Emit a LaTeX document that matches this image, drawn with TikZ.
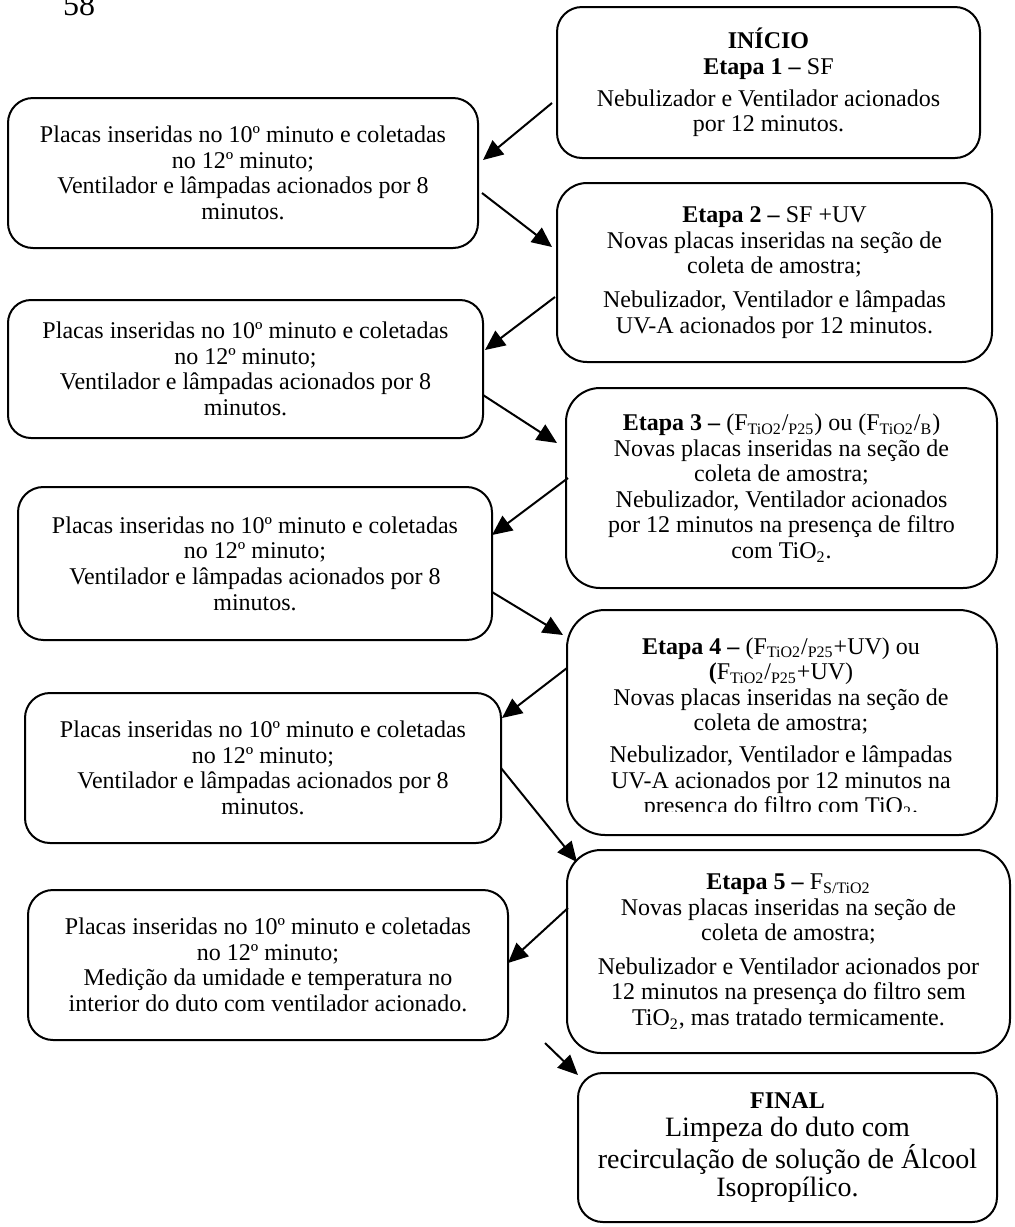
\documentclass[tikz,border=0pt]{standalone}
\usepackage{fontspec}
\setmainfont{Liberation Serif}
\usetikzlibrary{arrows.meta}
\newcommand{\Fsub}[2]{F\textsubscript{#1}/\textsubscript{#2}}
\begin{document}
\begin{tikzpicture}[x=0.5pt,y=-0.5pt,
  box/.style={draw, line width=1pt, align=center, inner sep=0pt,
    font=\fontsize{12}{12.8}\selectfont},
  txt/.style={align=center, inner sep=0pt, font=\fontsize{12}{12.8}\selectfont},
  arr/.style={line width=1pt, -{Triangle[length=10pt,width=9pt]}}]
\useasboundingbox (0,0) rectangle (1015,1227);

\node[font=\fontsize{16}{16}\selectfont, anchor=base, inner sep=0pt] (pg) at (79,15) {58};

% right column
\node[box, rounded corners=12.5pt, minimum width=211.5pt, minimum height=75.5pt] (R1) at (768.5,82.5)
 {\textbf{INÍCIO}\\\textbf{Etapa 1 –} SF\\[3pt]Nebulizador e Ventilador acionados\\por 12 minutos.};

\node[box, rounded corners=15pt, minimum width=217.5pt, minimum height=89.5pt] (R2) at (774.5,272.5)
 {\textbf{Etapa 2 –} SF +UV\\Novas placas inseridas na seção de\\coleta de amostra;\\[4pt]Nebulizador, Ventilador e lâmpadas\\UV-A acionados por 12 minutos.};

\node[box, rounded corners=17pt, minimum width=215.5pt, minimum height=100pt] (R3) at (781.5,488)
 {\textbf{Etapa 3 –} (\Fsub{TiO2}{P25}) ou (\Fsub{TiO2}{B})\\Novas placas inseridas na seção de\\coleta de amostra;\\Nebulizador, Ventilador acionados\\por 12 minutos na presença de filtro\\com TiO\textsubscript{2}.};

\node[box, rounded corners=19pt, minimum width=215pt, minimum height=112.5pt] (R4) at (782,722.5) {};
\begin{scope}
  \clip (567,610) rectangle (997,811);
  \node[txt, anchor=north] (R4t) at (781,637)
   {\textbf{Etapa 4 –} (\Fsub{TiO2}{P25}+UV) ou\\\textbf{(}\Fsub{TiO2}{P25}+UV)\\Novas placas inseridas na seção de\\coleta de amostra;\\[3pt]Nebulizador, Ventilador e lâmpadas\\UV-A acionados por 12 minutos na\\presença do filtro com TiO\textsubscript{2}.};
\end{scope}

\node[box, rounded corners=17pt, minimum width=221.5pt, minimum height=101.5pt] (R5) at (788.5,951.5)
 {\textbf{Etapa 5 –} F\textsubscript{S/TiO2}\\Novas placas inseridas na seção de\\coleta de amostra;\\[4pt]Nebulizador e Ventilador acionados por\\12 minutos na presença do filtro sem\\TiO\textsubscript{2}, mas tratado termicamente.};

\node[box, rounded corners=12.4pt, minimum width=209.5pt, minimum height=74.5pt,
      font=\fontsize{14}{14}\selectfont] (R6) at (787.5,1147.5)
 {{\fontsize{12}{14}\selectfont\bfseries FINAL}\\Limpeza do duto com\\recirculação de solução de Álcool\\Isopropílico.};

% left column
\node[box, rounded corners=12.5pt, minimum width=235pt, minimum height=75pt] (L1) at (243,173)
 {Placas inseridas no 10º minuto e coletadas\\no 12º minuto;\\Ventilador e lâmpadas acionados por 8\\minutos.};
\node[box, rounded corners=11.5pt, minimum width=237.5pt, minimum height=69pt] (L2) at (245.5,369)
 {Placas inseridas no 10º minuto e coletadas\\no 12º minuto;\\Ventilador e lâmpadas acionados por 8\\minutos.};
\node[box, rounded corners=12.7pt, minimum width=237pt, minimum height=76.5pt] (L3) at (255,563.5)
 {Placas inseridas no 10º minuto e coletadas\\no 12º minuto;\\Ventilador e lâmpadas acionados por 8\\minutos.};
\node[box, rounded corners=12.5pt, minimum width=238pt, minimum height=75pt] (L4) at (263,768)
 {Placas inseridas no 10º minuto e coletadas\\no 12º minuto;\\Ventilador e lâmpadas acionados por 8\\minutos.};
\node[box, rounded corners=12.5pt, minimum width=240pt, minimum height=75pt] (L5) at (268,965)
 {Placas inseridas no 10º minuto e coletadas\\no 12º minuto;\\Medição da umidade e temperatura no\\interior do duto com ventilador acionado.};

% connector end points
\coordinate (a1s) at (552,103);  \coordinate (a1e) at (483,160);
\coordinate (a2s) at (482,193);  \coordinate (a2e) at (552,247);
\coordinate (a3s) at (555,297);  \coordinate (a3e) at (485,350);
\coordinate (a4s) at (483,395);  \coordinate (a4e) at (557,443);
\coordinate (a5s) at (568,478);  \coordinate (a5e) at (492,535);
\coordinate (a6s) at (492,592);  \coordinate (a6e) at (563,635);
\coordinate (a7s) at (567,668);  \coordinate (a7e) at (502,718);
\coordinate (a8s) at (501,768);  \coordinate (a8e) at (577,862);
\coordinate (a9s) at (568,908);  \coordinate (a9e) at (508,963);
\coordinate (a10s) at (545,1043); \coordinate (a10e) at (578,1075);

\draw[arr] (a1s) -- (a1e);
\draw[arr] (a2s) -- (a2e);
\draw[arr] (a3s) -- (a3e);
\draw[arr] (a4s) -- (a4e);
\draw[arr] (a5s) -- (a5e);
\draw[arr] (a6s) -- (a6e);
\draw[arr] (a7s) -- (a7e);
\draw[arr] (a8s) -- (a8e);
\draw[arr] (a9s) -- (a9e);
\draw[arr] (a10s) -- (a10e);
\end{tikzpicture}
\end{document}
